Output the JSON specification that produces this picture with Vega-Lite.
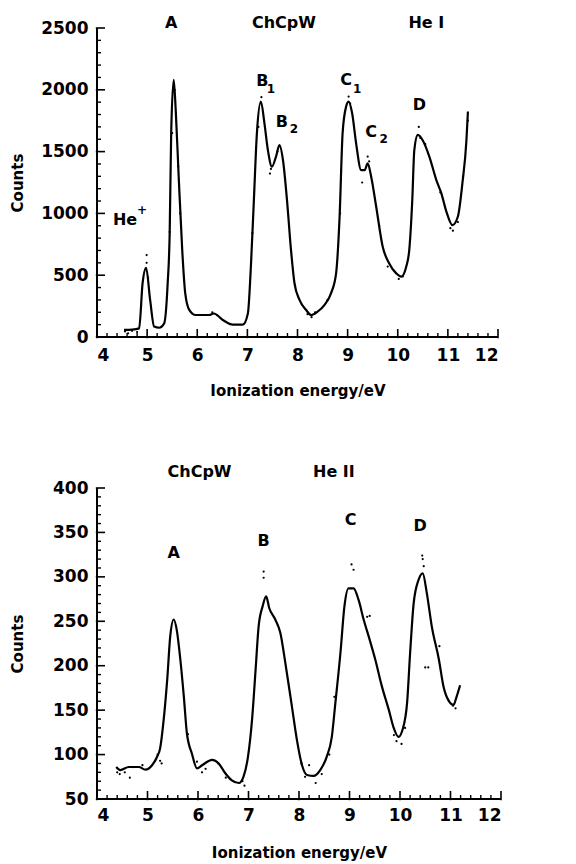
{
  "$schema": "https://vega.github.io/schema/vega-lite/v6.json",
  "background": "white",
  "padding": {"left": 10, "top": 15, "right": 5, "bottom": 5},
  "bounds": "flush",
  "spacing": 151,
  "config": {
    "view": {"stroke": null},
    "font": "DejaVu Sans",
    "axis": {
      "grid": false,
      "labelFontWeight": "bold",
      "labelFontSize": 17,
      "labelColor": "black",
      "titleFontWeight": "bold",
      "titleFontSize": 15,
      "titleColor": "black"
    }
  },
  "datasets": {
    "xmaj": [{"v": 4}, {"v": 5}, {"v": 6}, {"v": 7}, {"v": 8}, {"v": 9}, {"v": 10}, {"v": 11}, {"v": 12}],
    "xmin": [{"v": 4.2}, {"v": 4.4}, {"v": 4.6}, {"v": 4.8}, {"v": 5.2}, {"v": 5.4}, {"v": 5.6}, {"v": 5.8}, {"v": 6.2}, {"v": 6.4}, {"v": 6.6}, {"v": 6.8}, {"v": 7.2}, {"v": 7.4}, {"v": 7.6}, {"v": 7.8}, {"v": 8.2}, {"v": 8.4}, {"v": 8.6}, {"v": 8.8}, {"v": 9.2}, {"v": 9.4}, {"v": 9.6}, {"v": 9.8}, {"v": 10.2}, {"v": 10.4}, {"v": 10.6}, {"v": 10.8}, {"v": 11.2}, {"v": 11.4}, {"v": 11.6}, {"v": 11.8}],
    "top_ymaj": [{"v": 0}, {"v": 500}, {"v": 1000}, {"v": 1500}, {"v": 2000}, {"v": 2500}],
    "top_ymin": [{"v": 100}, {"v": 200}, {"v": 300}, {"v": 400}, {"v": 600}, {"v": 700}, {"v": 800}, {"v": 900}, {"v": 1100}, {"v": 1200}, {"v": 1300}, {"v": 1400}, {"v": 1600}, {"v": 1700}, {"v": 1800}, {"v": 1900}, {"v": 2100}, {"v": 2200}, {"v": 2300}, {"v": 2400}],
    "bot_ymaj": [{"v": 50}, {"v": 100}, {"v": 150}, {"v": 200}, {"v": 250}, {"v": 300}, {"v": 350}, {"v": 400}],
    "bot_ymin": [{"v": 60}, {"v": 70}, {"v": 80}, {"v": 90}, {"v": 110}, {"v": 120}, {"v": 130}, {"v": 140}, {"v": 160}, {"v": 170}, {"v": 180}, {"v": 190}, {"v": 210}, {"v": 220}, {"v": 230}, {"v": 240}, {"v": 260}, {"v": 270}, {"v": 280}, {"v": 290}, {"v": 310}, {"v": 320}, {"v": 330}, {"v": 340}, {"v": 360}, {"v": 370}, {"v": 380}, {"v": 390}],
    "top_line": [
      {"x": 4.54, "y": 57}, {"x": 4.70, "y": 60}, {"x": 4.84, "y": 70}, {"x": 4.91, "y": 437}, {"x": 4.98, "y": 560},
      {"x": 5.06, "y": 300}, {"x": 5.14, "y": 85}, {"x": 5.24, "y": 75}, {"x": 5.34, "y": 110}, {"x": 5.41, "y": 435},
      {"x": 5.45, "y": 840}, {"x": 5.48, "y": 1650}, {"x": 5.53, "y": 2080}, {"x": 5.57, "y": 1840}, {"x": 5.63, "y": 1295},
      {"x": 5.70, "y": 705}, {"x": 5.76, "y": 355}, {"x": 5.84, "y": 220}, {"x": 5.97, "y": 178}, {"x": 6.24, "y": 178},
      {"x": 6.33, "y": 190}, {"x": 6.51, "y": 138}, {"x": 6.71, "y": 100}, {"x": 6.91, "y": 100}, {"x": 7.01, "y": 190},
      {"x": 7.07, "y": 570}, {"x": 7.13, "y": 1110}, {"x": 7.19, "y": 1650}, {"x": 7.27, "y": 1905}, {"x": 7.34, "y": 1730},
      {"x": 7.41, "y": 1510}, {"x": 7.49, "y": 1378}, {"x": 7.57, "y": 1458}, {"x": 7.64, "y": 1553}, {"x": 7.71, "y": 1432},
      {"x": 7.79, "y": 1110}, {"x": 7.87, "y": 705}, {"x": 7.94, "y": 435}, {"x": 8.04, "y": 300}, {"x": 8.17, "y": 220},
      {"x": 8.27, "y": 178}, {"x": 8.40, "y": 205}, {"x": 8.54, "y": 260}, {"x": 8.67, "y": 355}, {"x": 8.77, "y": 515},
      {"x": 8.84, "y": 975}, {"x": 8.90, "y": 1650}, {"x": 8.97, "y": 1865}, {"x": 9.02, "y": 1905}, {"x": 9.09, "y": 1810},
      {"x": 9.17, "y": 1565}, {"x": 9.27, "y": 1350}, {"x": 9.34, "y": 1350}, {"x": 9.40, "y": 1405}, {"x": 9.47, "y": 1297},
      {"x": 9.57, "y": 1054}, {"x": 9.70, "y": 730}, {"x": 9.83, "y": 595}, {"x": 9.97, "y": 515}, {"x": 10.07, "y": 488},
      {"x": 10.17, "y": 570}, {"x": 10.23, "y": 705}, {"x": 10.29, "y": 1110}, {"x": 10.33, "y": 1510}, {"x": 10.40, "y": 1635},
      {"x": 10.50, "y": 1590}, {"x": 10.63, "y": 1460}, {"x": 10.77, "y": 1270}, {"x": 10.87, "y": 1162}, {"x": 10.97, "y": 1015},
      {"x": 11.09, "y": 905}, {"x": 11.20, "y": 975}, {"x": 11.29, "y": 1245}, {"x": 11.37, "y": 1590}, {"x": 11.40, "y": 1825}
    ],
    "top_dots": [
      {"x": 4.56, "y": 45}, {"x": 4.62, "y": 30}, {"x": 4.70, "y": 50}, {"x": 4.80, "y": 40}, {"x": 4.99, "y": 663},
      {"x": 4.99, "y": 600}, {"x": 5.02, "y": 480}, {"x": 5.45, "y": 850}, {"x": 5.50, "y": 1650}, {"x": 5.55, "y": 2000},
      {"x": 5.62, "y": 1380}, {"x": 5.66, "y": 1000}, {"x": 6.30, "y": 200}, {"x": 6.40, "y": 175}, {"x": 7.10, "y": 840},
      {"x": 7.22, "y": 1700}, {"x": 7.28, "y": 1940}, {"x": 7.45, "y": 1322}, {"x": 7.47, "y": 1360}, {"x": 7.60, "y": 1500},
      {"x": 7.95, "y": 420}, {"x": 8.20, "y": 185}, {"x": 8.28, "y": 160}, {"x": 8.35, "y": 200}, {"x": 8.60, "y": 300},
      {"x": 8.85, "y": 1000}, {"x": 9.02, "y": 1945}, {"x": 9.05, "y": 1890}, {"x": 9.29, "y": 1250}, {"x": 9.40, "y": 1460},
      {"x": 9.43, "y": 1420}, {"x": 9.63, "y": 900}, {"x": 9.80, "y": 570}, {"x": 10.02, "y": 470}, {"x": 10.10, "y": 490},
      {"x": 10.42, "y": 1700}, {"x": 10.45, "y": 1610}, {"x": 10.55, "y": 1560}, {"x": 10.85, "y": 1170}, {"x": 11.05, "y": 880},
      {"x": 11.10, "y": 860}, {"x": 11.20, "y": 930}, {"x": 11.30, "y": 1300}, {"x": 11.40, "y": 1750}
    ],
    "top_labels": [
      {"x": 5.48, "y": 2540, "t": "A"}, {"x": 7.73, "y": 2540, "t": "ChCpW"}, {"x": 10.57, "y": 2540, "t": "He I"},
      {"x": 7.30, "y": 2070, "t": "B"}, {"x": 7.69, "y": 1740, "t": "B"}, {"x": 8.97, "y": 2080, "t": "C"},
      {"x": 9.47, "y": 1660, "t": "C"}, {"x": 10.43, "y": 1877, "t": "D"}, {"x": 4.56, "y": 947, "t": "He"}
    ],
    "top_subs": [
      {"x": 7.47, "y": 2010, "t": "1"}, {"x": 7.93, "y": 1680, "t": "2"}, {"x": 9.19, "y": 2010, "t": "1"},
      {"x": 9.72, "y": 1600, "t": "2"}, {"x": 4.90, "y": 1030, "t": "+"}
    ],
    "bot_line": [
      {"x": 4.38, "y": 86}, {"x": 4.46, "y": 82.6}, {"x": 4.63, "y": 86}, {"x": 4.83, "y": 86}, {"x": 4.96, "y": 83},
      {"x": 5.09, "y": 88}, {"x": 5.19, "y": 97.6}, {"x": 5.25, "y": 107}, {"x": 5.32, "y": 139}, {"x": 5.39, "y": 184},
      {"x": 5.45, "y": 233}, {"x": 5.52, "y": 252}, {"x": 5.58, "y": 240}, {"x": 5.65, "y": 207}, {"x": 5.72, "y": 165},
      {"x": 5.78, "y": 124}, {"x": 5.88, "y": 101}, {"x": 5.98, "y": 84.5}, {"x": 6.08, "y": 88}, {"x": 6.28, "y": 94},
      {"x": 6.41, "y": 90}, {"x": 6.54, "y": 79}, {"x": 6.67, "y": 71}, {"x": 6.81, "y": 68}, {"x": 6.90, "y": 75},
      {"x": 6.99, "y": 97.6}, {"x": 7.07, "y": 139}, {"x": 7.14, "y": 195}, {"x": 7.20, "y": 244}, {"x": 7.28, "y": 267},
      {"x": 7.35, "y": 278}, {"x": 7.41, "y": 265}, {"x": 7.53, "y": 252}, {"x": 7.63, "y": 237}, {"x": 7.73, "y": 203},
      {"x": 7.86, "y": 154}, {"x": 7.96, "y": 116}, {"x": 8.06, "y": 88}, {"x": 8.16, "y": 77}, {"x": 8.29, "y": 76},
      {"x": 8.42, "y": 82.6}, {"x": 8.55, "y": 97.6}, {"x": 8.65, "y": 120}, {"x": 8.72, "y": 158}, {"x": 8.82, "y": 214},
      {"x": 8.90, "y": 267}, {"x": 8.98, "y": 287}, {"x": 9.08, "y": 287}, {"x": 9.18, "y": 274}, {"x": 9.28, "y": 252},
      {"x": 9.38, "y": 233}, {"x": 9.51, "y": 207}, {"x": 9.64, "y": 177}, {"x": 9.78, "y": 150}, {"x": 9.87, "y": 131},
      {"x": 9.97, "y": 120}, {"x": 10.05, "y": 128}, {"x": 10.14, "y": 158}, {"x": 10.20, "y": 214}, {"x": 10.27, "y": 270},
      {"x": 10.37, "y": 297}, {"x": 10.45, "y": 304}, {"x": 10.53, "y": 282}, {"x": 10.63, "y": 244}, {"x": 10.77, "y": 207},
      {"x": 10.86, "y": 177}, {"x": 10.96, "y": 161}, {"x": 11.06, "y": 156}, {"x": 11.12, "y": 165}, {"x": 11.19, "y": 178}
    ],
    "bot_dots": [
      {"x": 4.40, "y": 80}, {"x": 4.45, "y": 78}, {"x": 4.55, "y": 80}, {"x": 4.65, "y": 74}, {"x": 4.70, "y": 86},
      {"x": 4.90, "y": 88}, {"x": 5.20, "y": 100}, {"x": 5.25, "y": 93}, {"x": 5.28, "y": 90}, {"x": 5.80, "y": 123},
      {"x": 5.98, "y": 92}, {"x": 6.08, "y": 80}, {"x": 6.15, "y": 84}, {"x": 6.40, "y": 90}, {"x": 6.55, "y": 74},
      {"x": 6.88, "y": 70}, {"x": 6.92, "y": 65}, {"x": 7.30, "y": 306}, {"x": 7.30, "y": 299}, {"x": 8.05, "y": 90},
      {"x": 8.12, "y": 75}, {"x": 8.20, "y": 88}, {"x": 8.33, "y": 68}, {"x": 8.45, "y": 78}, {"x": 8.60, "y": 100},
      {"x": 8.70, "y": 165}, {"x": 9.04, "y": 314}, {"x": 9.08, "y": 308}, {"x": 9.35, "y": 255}, {"x": 9.40, "y": 256},
      {"x": 9.88, "y": 122}, {"x": 9.93, "y": 115}, {"x": 10.03, "y": 112}, {"x": 10.10, "y": 130}, {"x": 10.44, "y": 324},
      {"x": 10.45, "y": 320}, {"x": 10.47, "y": 312}, {"x": 10.50, "y": 198}, {"x": 10.56, "y": 198}, {"x": 10.78, "y": 222},
      {"x": 11.05, "y": 155}, {"x": 11.10, "y": 152}, {"x": 11.15, "y": 170}
    ],
    "bot_labels": [
      {"x": 6.03, "y": 418, "t": "ChCpW"}, {"x": 8.69, "y": 418, "t": "He II"}, {"x": 5.52, "y": 327, "t": "A"},
      {"x": 7.30, "y": 340, "t": "B"}, {"x": 9.02, "y": 364, "t": "C"}, {"x": 10.40, "y": 357, "t": "D"}
    ]
  },
  "vconcat": [
    {
      "width": 401,
      "height": 309,
      "resolve": {"axis": {"x": "independent", "y": "independent"}},
      "layer": [
        {
          "data": {"name": "top_line"},
          "mark": {"type": "line", "color": "black", "strokeWidth": 2.2, "interpolate": "monotone"},
          "encoding": {
            "x": {"field": "x", "type": "quantitative", "scale": {"domain": [4, 12], "nice": false, "zero": false},
              "axis": {"orient": "bottom", "title": "Ionization energy/eV", "values": [4,5,6,7,8,9,10,11,12], "format": "d", "labelOverlap": false,
                "ticks": false, "tickSize": 0, "domain": false, "labelPadding": 10, "titlePadding": 20}},
            "y": {"field": "y", "type": "quantitative", "scale": {"domain": [0, 2500], "nice": false},
              "axis": {"orient": "left", "title": "Counts", "values": [0,500,1000,1500,2000,2500], "format": "d", "labelOverlap": false,
                "ticks": false, "tickSize": 0, "domain": false, "labelPadding": 9, "titlePadding": 15}}
          }
        },
        {
          "data": {"name": "top_ymaj"},
          "mark": {"type": "line", "color": "black", "strokeWidth": 2},
          "encoding": {"x": {"datum": 4, "axis": null}, "y": {"field": "v", "type": "quantitative", "axis": null}}
        },
        {
          "data": {"name": "xmaj"},
          "mark": {"type": "line", "color": "black", "strokeWidth": 2},
          "encoding": {"x": {"field": "v", "type": "quantitative", "axis": null}, "y": {"datum": 0, "axis": null}}
        },
        {
          "data": {"name": "xmaj"},
          "mark": {"type": "point", "shape": "M0,0.15L0,-1", "size": 256, "filled": false, "stroke": "black", "strokeWidth": 1.6, "opacity": 1},
          "encoding": {"x": {"field": "v", "type": "quantitative", "axis": null}, "y": {"datum": 0, "axis": null}}
        },
        {
          "data": {"name": "xmin"},
          "mark": {"type": "point", "shape": "M0,0L0,-1", "size": 64, "filled": false, "stroke": "black", "strokeWidth": 1.4, "opacity": 1},
          "encoding": {"x": {"field": "v", "type": "quantitative", "axis": null}, "y": {"datum": 0, "axis": null}}
        },
        {
          "data": {"name": "top_ymaj"},
          "mark": {"type": "point", "shape": "M-0.15,0L1,0", "size": 256, "filled": false, "stroke": "black", "strokeWidth": 1.6, "opacity": 1},
          "encoding": {"y": {"field": "v", "type": "quantitative", "axis": null}, "x": {"datum": 4, "axis": null}}
        },
        {
          "data": {"name": "top_ymin"},
          "mark": {"type": "point", "shape": "M0,0L1,0", "size": 64, "filled": false, "stroke": "black", "strokeWidth": 1.4, "opacity": 1},
          "encoding": {"y": {"field": "v", "type": "quantitative", "axis": null}, "x": {"datum": 4, "axis": null}}
        },
        {
          "data": {"name": "top_dots"},
          "mark": {"type": "circle", "color": "black", "size": 5, "opacity": 1},
          "encoding": {"x": {"field": "x", "type": "quantitative", "axis": null}, "y": {"field": "y", "type": "quantitative", "axis": null}}
        },
        {
          "data": {"name": "top_labels"},
          "mark": {"type": "text", "align": "center", "baseline": "middle", "font": "DejaVu Sans", "fontWeight": "bold", "fontSize": 16, "color": "black"},
          "encoding": {"x": {"field": "x", "type": "quantitative", "axis": null}, "y": {"field": "y", "type": "quantitative", "axis": null}, "text": {"field": "t"}}
        },
        {
          "data": {"name": "top_subs"},
          "mark": {"type": "text", "align": "center", "baseline": "middle", "font": "DejaVu Sans", "fontWeight": "bold", "fontSize": 12, "color": "black"},
          "encoding": {"x": {"field": "x", "type": "quantitative", "axis": null}, "y": {"field": "y", "type": "quantitative", "axis": null}, "text": {"field": "t"}}
        }
      ]
    },
    {
      "width": 404,
      "height": 311,
      "resolve": {"axis": {"x": "independent", "y": "independent"}},
      "layer": [
        {
          "data": {"name": "bot_line"},
          "mark": {"type": "line", "color": "black", "strokeWidth": 2.2, "interpolate": "monotone"},
          "encoding": {
            "x": {"field": "x", "type": "quantitative", "scale": {"domain": [4, 12], "nice": false, "zero": false},
              "axis": {"orient": "bottom", "title": "Ionization energy/eV", "values": [4,5,6,7,8,9,10,11,12], "format": "d", "labelOverlap": false,
                "ticks": false, "tickSize": 0, "domain": false, "labelPadding": 8, "titlePadding": 22}},
            "y": {"field": "y", "type": "quantitative", "scale": {"domain": [50, 400], "nice": false, "zero": false},
              "axis": {"orient": "left", "title": "Counts", "values": [50,100,150,200,250,300,350,400], "format": "d", "labelOverlap": false,
                "ticks": false, "tickSize": 0, "domain": false, "labelPadding": 9, "titlePadding": 27}}
          }
        },
        {
          "data": {"name": "bot_ymaj"},
          "mark": {"type": "line", "color": "black", "strokeWidth": 2},
          "encoding": {"x": {"datum": 4, "axis": null}, "y": {"field": "v", "type": "quantitative", "axis": null}}
        },
        {
          "data": {"name": "xmaj"},
          "mark": {"type": "line", "color": "black", "strokeWidth": 2},
          "encoding": {"x": {"field": "v", "type": "quantitative", "axis": null}, "y": {"datum": 50, "axis": null}}
        },
        {
          "data": {"name": "xmaj"},
          "mark": {"type": "point", "shape": "M0,0.15L0,-1", "size": 256, "filled": false, "stroke": "black", "strokeWidth": 1.6, "opacity": 1},
          "encoding": {"x": {"field": "v", "type": "quantitative", "axis": null}, "y": {"datum": 50, "axis": null}}
        },
        {
          "data": {"name": "xmin"},
          "mark": {"type": "point", "shape": "M0,0L0,-1", "size": 64, "filled": false, "stroke": "black", "strokeWidth": 1.4, "opacity": 1},
          "encoding": {"x": {"field": "v", "type": "quantitative", "axis": null}, "y": {"datum": 50, "axis": null}}
        },
        {
          "data": {"name": "bot_ymaj"},
          "mark": {"type": "point", "shape": "M-0.15,0L1,0", "size": 256, "filled": false, "stroke": "black", "strokeWidth": 1.6, "opacity": 1},
          "encoding": {"y": {"field": "v", "type": "quantitative", "axis": null}, "x": {"datum": 4, "axis": null}}
        },
        {
          "data": {"name": "bot_ymin"},
          "mark": {"type": "point", "shape": "M0,0L1,0", "size": 64, "filled": false, "stroke": "black", "strokeWidth": 1.4, "opacity": 1},
          "encoding": {"y": {"field": "v", "type": "quantitative", "axis": null}, "x": {"datum": 4, "axis": null}}
        },
        {
          "data": {"name": "bot_dots"},
          "mark": {"type": "circle", "color": "black", "size": 5, "opacity": 1},
          "encoding": {"x": {"field": "x", "type": "quantitative", "axis": null}, "y": {"field": "y", "type": "quantitative", "axis": null}}
        },
        {
          "data": {"name": "bot_labels"},
          "mark": {"type": "text", "align": "center", "baseline": "middle", "font": "DejaVu Sans", "fontWeight": "bold", "fontSize": 16, "color": "black"},
          "encoding": {"x": {"field": "x", "type": "quantitative", "axis": null}, "y": {"field": "y", "type": "quantitative", "axis": null}, "text": {"field": "t"}}
        }
      ]
    }
  ]
}
